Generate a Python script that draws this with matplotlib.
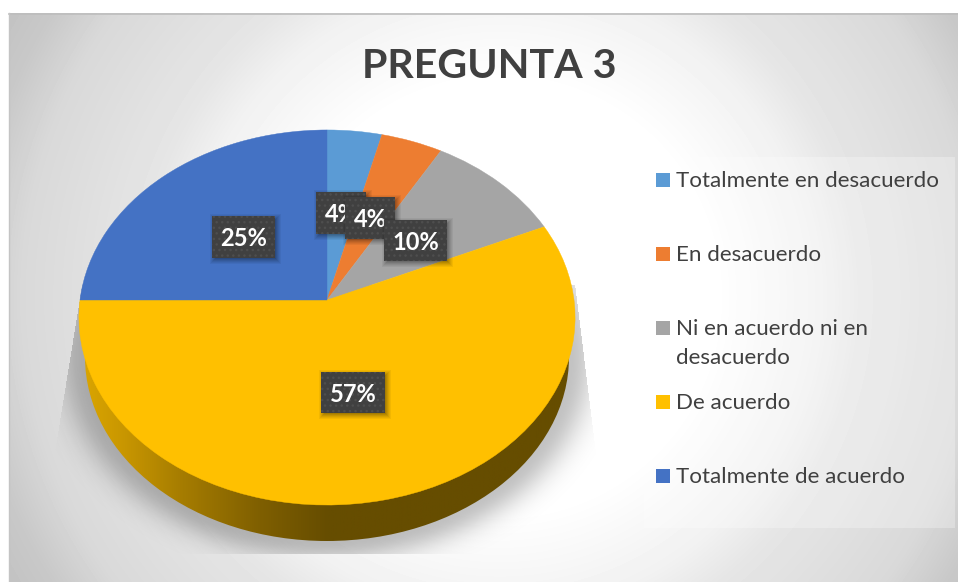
import numpy as np
import matplotlib
matplotlib.use("Agg")
import matplotlib.pyplot as plt
from matplotlib.colors import LinearSegmentedColormap
from matplotlib.patches import Rectangle, Ellipse
from matplotlib.transforms import Transform

categories = ["Totalmente en desacuerdo", "En desacuerdo", "Ni en acuerdo ni en\ndesacuerdo",
              "De acuerdo", "Totalmente de acuerdo"]
values = [3.9, 4.4, 10.0, 56.7, 25.0]
value_labels = ["4%", "4%", "10%", "57%", "25%"]
colors = ["#5B9BD5", "#ED7D31", "#A5A5A5", "#FFC000", "#4472C4"]
title = "PREGUNTA 3"

# layout, in pixels of the 958x582 picture
W, H = 958, 582
APEX = (327, 300)
SCALE_X, SCALE_Y, TILT = 247.0, 185.9, 0.0933
label_boxes = [(316, 192, 50, 42), (345, 197, 50, 42), (384, 220, 63, 41), (321, 372, 64, 41), (212, 216, 63, 42)]
legend_y = [180, 254, 328, 402, 476]
FONT = "Lato"
TEXT = "#404040"


class Tilted(Transform):
    """Perspective view of the unit-circle pie lying on a table."""
    input_dims = output_dims = 2

    def transform_non_affine(self, pts):
        pts = np.asarray(pts, float)
        d = 1 + TILT * pts[:, 1]
        return np.column_stack([APEX[0] + SCALE_X * pts[:, 0] / d, APEX[1] - SCALE_Y * pts[:, 1] / d])


fig = plt.figure(figsize=(W / 100, H / 100), dpi=100, facecolor="white")
ax = fig.add_axes([0, 0, 1, 1])

# chart background
yy, xx = np.mgrid[13:582, 9:958] + 0.5
dist = np.hypot(xx - 500, yy - 297)
bg = np.interp(dist, [0, 215, 316, 360, 478, 530, 565, 620], [1, 1, .945, .90, .85, .785, .765, .74])
ax.imshow(bg, cmap="gray", vmin=0, vmax=1, extent=(9, 958, 582, 13), zorder=0, interpolation="bilinear", aspect="auto")
ax.plot([9, 958], [13.5, 13.5], color="#bdbdbd", lw=1.2, zorder=1)
ax.plot([9.5, 9.5], [13, 582], color="#c4c4c4", lw=1, zorder=1)

# soft shadow under the pie
d = (np.hypot((xx - 327) / 242, (yy - 357) / 184) - 1) * 212
sh = 0.24 * np.exp(-(np.clip(d, 0, None) / 24) ** 2)
left = 83 - (yy - 280) * 20 / 123
right = 577 + (yy - 300) * 14 / 113
sh[xx < left] = 0
sh[xx > right] = 0
sh[(yy < 285) | (yy > 554)] = 0
rgba = np.zeros(sh.shape + (4,))
rgba[..., 3] = sh
ax.imshow(rgba, extent=(9, 958, 582, 13), zorder=2, interpolation="bilinear", aspect="auto")

# pie side wall
wall_cmap = LinearSegmentedColormap.from_list("wall", [(0, "#D9A400"), (.08, "#C89600"), (.2, "#A57C00"),
                                                         (.36, "#7F5F00"), (.5, "#664D00"), (1, "#664D00")])
wall = ax.imshow(np.linspace(0, 1, 500)[None, :], cmap=wall_cmap, extent=(85, 570, 545, 300), zorder=3, aspect="auto")
wall_clip = Ellipse((327, 357), 484, 368, facecolor="none", edgecolor="none", zorder=3)
ax.add_patch(wall_clip)
wall.set_clip_path(wall_clip)

# pie top
wedges, _ = ax.pie(values, colors=colors, startangle=90, counterclock=False, radius=1,
                   wedgeprops={"linewidth": 0.3})
tilted = Tilted()
for w, c in zip(wedges, colors):
    w.set_edgecolor(c)
    w.set_transform(tilted + ax.transData)
    w.set_zorder(4)

# legend panel
ax.add_patch(Rectangle((644, 157), 311, 371, facecolor="white", alpha=0.28, edgecolor="none", zorder=5))

# data labels
z = 6.0
for (x, y, w, h), lab in zip(label_boxes, value_labels):
    for k, a in zip(range(6, 0, -1), [.05, .05, .06, .07, .08, .09]):
        ax.add_patch(Rectangle((x + 4 - k, y + 4 - k), w + 2 * k - 4, h + 2 * k - 4, facecolor="black", alpha=a,
                               edgecolor="none", zorder=z))
    ax.add_patch(Rectangle((x, y), w, h, facecolor="#404040", edgecolor="#4e4e4e", hatch="...", lw=0, zorder=z + .1))
    ax.text(x + w / 2, y + h / 2 + 1.5, lab, color="white", fontsize=17, fontweight="bold", family=FONT,
            ha="center", va="center", zorder=z + .2)
    z += 1

# legend
for cat, c, y in zip(categories, colors, legend_y):
    ax.add_patch(Rectangle((656, y - 7), 14, 14, facecolor=c, edgecolor="none", zorder=20))
    ax.text(676, y - 9, cat, color=TEXT, fontsize=16.1, family=FONT, ha="left", va="top", linespacing=1.56, zorder=20)

ax.text(489.5, 66, title, color=TEXT, fontsize=29.6, fontweight="bold", family=FONT, ha="center", va="center", zorder=20)

ax.set_xlim(0, W)
ax.set_ylim(H, 0)
ax.set_aspect("auto")
ax.axis("off")
fig.savefig("out.png", dpi=100, facecolor="white")
